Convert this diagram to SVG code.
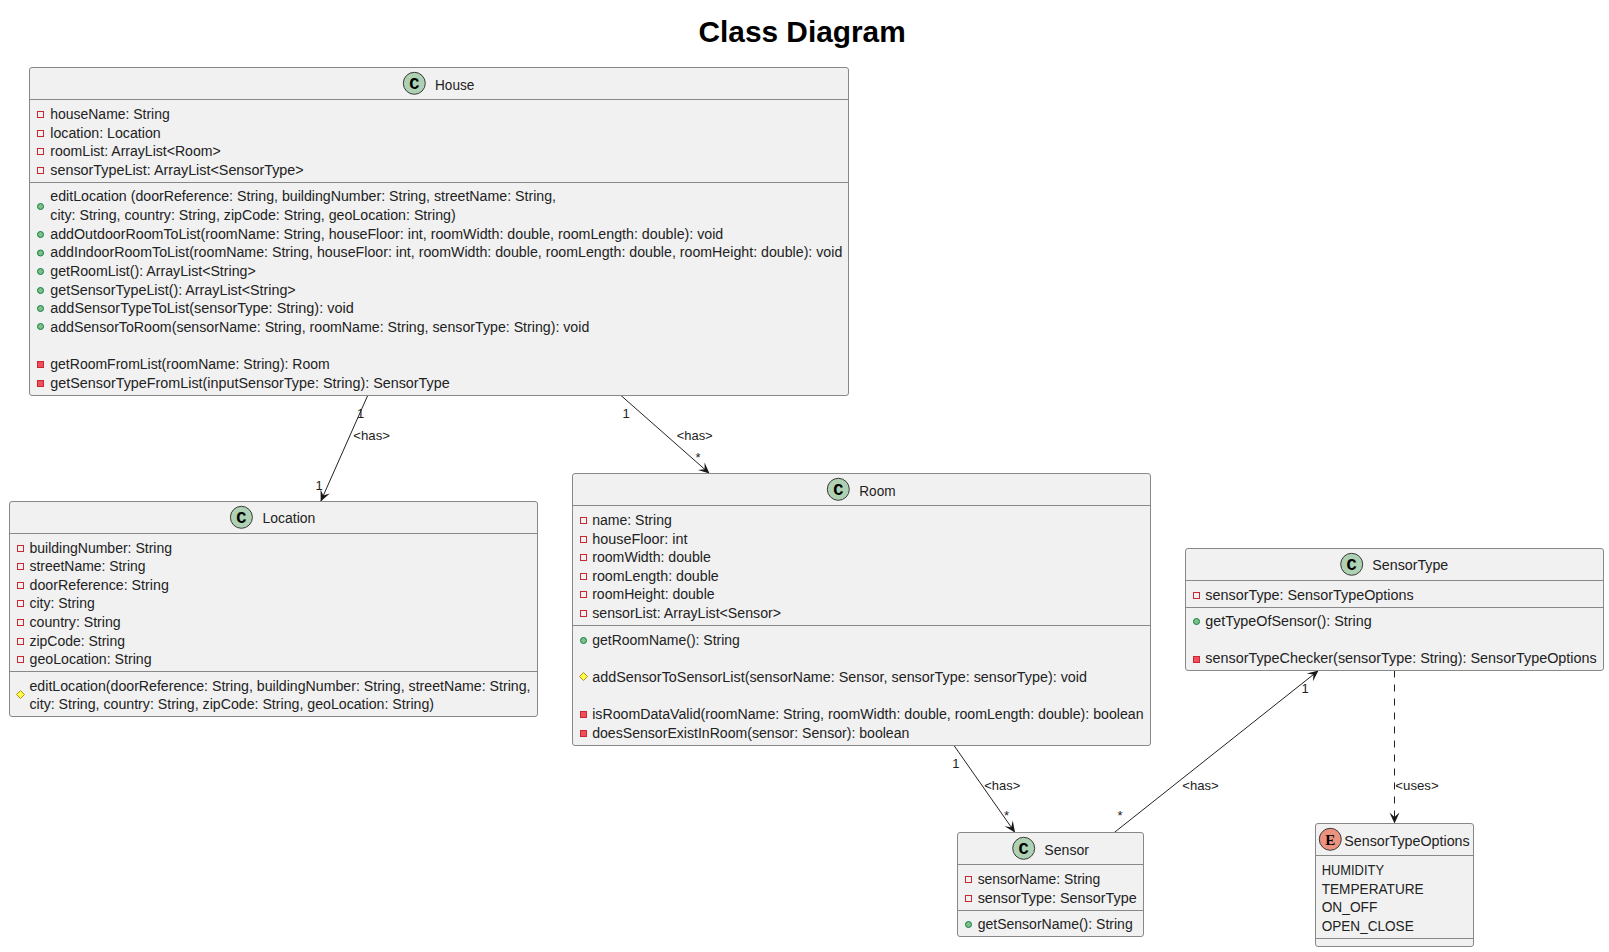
<svg xmlns="http://www.w3.org/2000/svg" width="1609" height="952" viewBox="0 0 1609 952">
<style>
text{font-family:"Liberation Sans",Arial,sans-serif;font-size:14px;fill:#222;}
.t{font-size:30px;font-weight:bold;fill:#000}
.l{font-size:13px}
.box{fill:#F1F1F1;stroke:#888;stroke-width:1}
.sep{stroke:#888;stroke-width:1;fill:none}
.cc{fill:#ADD1B2;stroke:#3a3a3a;stroke-width:1}
.ce{fill:#EB937F;stroke:#3a3a3a;stroke-width:1}
.g{font-family:"Liberation Mono",monospace;font-weight:bold;font-size:17px;fill:#000;text-anchor:middle}
.e{font-family:"Liberation Serif",serif;font-weight:bold;font-size:15px;fill:#000;text-anchor:middle}
.c{stroke:#222;stroke-width:1;fill:none}
.d{stroke-dasharray:7 7}
</style>
<defs>
<marker id="arr" markerUnits="userSpaceOnUse" markerWidth="14" markerHeight="12" refX="12" refY="6" orient="auto"><path d="M12,6 L1,1 L5.5,6 L1,11 Z" fill="#181818"/></marker>
<rect id="pf" x="-3" y="-3" width="6" height="6" fill="none" stroke="#C82930"/>
<rect id="pm" x="-3" y="-3" width="6" height="6" fill="#F24D5C" stroke="#C82930"/>
<circle id="pu" r="3" fill="#84BE84" stroke="#038048"/>
<path id="pt" d="M0,-4 L4,0 L0,4 L-4,0 Z" fill="#FFFF44" stroke="#B38D22"/>
</defs>

<text class="t" x="698.5" y="41.5" textLength="207.2" lengthAdjust="spacingAndGlyphs">Class Diagram</text>

<g id="connectors">
<line class="c" x1="367.7" y1="395.5" x2="320.7" y2="501.5" marker-end="url(#arr)"/>
<line class="c" x1="621" y1="395.5" x2="709.5" y2="473.5" marker-end="url(#arr)"/>
<line class="c" x1="954" y1="745.5" x2="1015" y2="832.5" marker-end="url(#arr)"/>
<line class="c" x1="1114.3" y1="832.5" x2="1318.5" y2="670.5" marker-end="url(#arr)"/>
<line class="c d" x1="1394.5" y1="670.5" x2="1394.5" y2="823.5" marker-end="url(#arr)"/>
<text class="l" x="357" y="418">1</text>
<text class="l" x="353.3" y="440" textLength="36.7" lengthAdjust="spacingAndGlyphs">&lt;has&gt;</text>
<text class="l" x="315.5" y="490">1</text>
<text class="l" x="622.5" y="418">1</text>
<text class="l" x="676.7" y="440" textLength="36" lengthAdjust="spacingAndGlyphs">&lt;has&gt;</text>
<text class="l" x="695.5" y="462">*</text>
<text class="l" x="952.3" y="768">1</text>
<text class="l" x="984.3" y="790" textLength="36" lengthAdjust="spacingAndGlyphs">&lt;has&gt;</text>
<text class="l" x="1004" y="820">*</text>
<text class="l" x="1301.5" y="693">1</text>
<text class="l" x="1182.3" y="790" textLength="36.4" lengthAdjust="spacingAndGlyphs">&lt;has&gt;</text>
<text class="l" x="1117.5" y="820">*</text>
<text class="l" x="1395.3" y="790" textLength="43.4" lengthAdjust="spacingAndGlyphs">&lt;uses&gt;</text>
</g>

<g id="House">
<rect class="box" x="29.5" y="67.5" width="819" height="328" rx="2.5"/>
<path class="sep" d="M29.5,99.5H848.5M29.5,182.5H848.5"/>
<circle class="cc" cx="414.3" cy="83.3" r="11"/><text class="g" x="414.3" y="88.5">C</text>
<text x="435" y="90" textLength="39.3" lengthAdjust="spacingAndGlyphs">House</text>
<use href="#pf" x="40.5" y="114.5"/><text x="50.3" y="119" textLength="119.4" lengthAdjust="spacingAndGlyphs">houseName: String</text>
<use href="#pf" x="40.5" y="133.5"/><text x="50.3" y="138" textLength="110.4" lengthAdjust="spacingAndGlyphs">location: Location</text>
<use href="#pf" x="40.5" y="151.5"/><text x="50.3" y="156" textLength="170.4" lengthAdjust="spacingAndGlyphs">roomList: ArrayList&lt;Room&gt;</text>
<use href="#pf" x="40.5" y="170.5"/><text x="50.3" y="175" textLength="253.4" lengthAdjust="spacingAndGlyphs">sensorTypeList: ArrayList&lt;SensorType&gt;</text>
<use href="#pu" x="40.5" y="206.5"/>
<text x="50.3" y="201" textLength="505.7" lengthAdjust="spacingAndGlyphs">editLocation (doorReference: String, buildingNumber: String, streetName: String,</text>
<text x="50.3" y="220" textLength="405.4" lengthAdjust="spacingAndGlyphs">city: String, country: String, zipCode: String, geoLocation: String)</text>
<use href="#pu" x="40.5" y="234.5"/><text x="50.3" y="239" textLength="673" lengthAdjust="spacingAndGlyphs">addOutdoorRoomToList(roomName: String, houseFloor: int, roomWidth: double, roomLength: double): void</text>
<use href="#pu" x="40.5" y="253"/><text x="50.3" y="257" textLength="792" lengthAdjust="spacingAndGlyphs">addIndoorRoomToList(roomName: String, houseFloor: int, roomWidth: double, roomLength: double, roomHeight: double): void</text>
<use href="#pu" x="40.5" y="271.5"/><text x="50.3" y="276" textLength="205.4" lengthAdjust="spacingAndGlyphs">getRoomList(): ArrayList&lt;String&gt;</text>
<use href="#pu" x="40.5" y="290.5"/><text x="50.3" y="295" textLength="245.4" lengthAdjust="spacingAndGlyphs">getSensorTypeList(): ArrayList&lt;String&gt;</text>
<use href="#pu" x="40.5" y="308.5"/><text x="50.3" y="313" textLength="303.4" lengthAdjust="spacingAndGlyphs">addSensorTypeToList(sensorType: String): void</text>
<use href="#pu" x="40.5" y="326.5"/><text x="50.3" y="332" textLength="539" lengthAdjust="spacingAndGlyphs">addSensorToRoom(sensorName: String, roomName: String, sensorType: String): void</text>
<use href="#pm" x="40.5" y="364.5"/><text x="50.3" y="369" textLength="279.4" lengthAdjust="spacingAndGlyphs">getRoomFromList(roomName: String): Room</text>
<use href="#pm" x="40.5" y="383.5"/><text x="50.3" y="388" textLength="399.4" lengthAdjust="spacingAndGlyphs">getSensorTypeFromList(inputSensorType: String): SensorType</text>
</g>

<g id="Location">
<rect class="box" x="9.5" y="501.5" width="528" height="215" rx="2.5"/>
<path class="sep" d="M9.5,533.5H537.5M9.5,671.5H537.5"/>
<circle class="cc" cx="241.4" cy="517.3" r="11"/><text class="g" x="241.4" y="522.5">C</text>
<text x="262.5" y="523" textLength="52.9" lengthAdjust="spacingAndGlyphs">Location</text>
<use href="#pf" x="20.5" y="548.5"/><text x="29.5" y="553" textLength="142.5" lengthAdjust="spacingAndGlyphs">buildingNumber: String</text>
<use href="#pf" x="20.5" y="566.5"/><text x="29.5" y="571" textLength="116.1" lengthAdjust="spacingAndGlyphs">streetName: String</text>
<use href="#pf" x="20.5" y="585.5"/><text x="29.5" y="590" textLength="139.3" lengthAdjust="spacingAndGlyphs">doorReference: String</text>
<use href="#pf" x="20.5" y="603.5"/><text x="29.5" y="608" textLength="65.2" lengthAdjust="spacingAndGlyphs">city: String</text>
<use href="#pf" x="20.5" y="622.5"/><text x="29.5" y="627" textLength="91.2" lengthAdjust="spacingAndGlyphs">country: String</text>
<use href="#pf" x="20.5" y="641.5"/><text x="29.5" y="646" textLength="95.4" lengthAdjust="spacingAndGlyphs">zipCode: String</text>
<use href="#pf" x="20.5" y="659.5"/><text x="29.5" y="664" textLength="122.1" lengthAdjust="spacingAndGlyphs">geoLocation: String</text>
<use href="#pt" x="20.5" y="694.5"/>
<text x="29.5" y="691" textLength="501" lengthAdjust="spacingAndGlyphs">editLocation(doorReference: String, buildingNumber: String, streetName: String,</text>
<text x="29.5" y="709" textLength="404.5" lengthAdjust="spacingAndGlyphs">city: String, country: String, zipCode: String, geoLocation: String)</text>
</g>

<g id="Room">
<rect class="box" x="572.5" y="473.5" width="578" height="272" rx="2.5"/>
<path class="sep" d="M572.5,505.5H1150.5M572.5,625.5H1150.5"/>
<circle class="cc" cx="838.3" cy="489.3" r="11"/><text class="g" x="838.3" y="494.5">C</text>
<text x="859.3" y="496" textLength="36.3" lengthAdjust="spacingAndGlyphs">Room</text>
<use href="#pf" x="583.5" y="520.5"/><text x="592.2" y="525" textLength="79.6" lengthAdjust="spacingAndGlyphs">name: String</text>
<use href="#pf" x="583.5" y="539.5"/><text x="592.2" y="544" textLength="95.3" lengthAdjust="spacingAndGlyphs">houseFloor: int</text>
<use href="#pf" x="583.5" y="557.5"/><text x="592.2" y="562" textLength="118.6" lengthAdjust="spacingAndGlyphs">roomWidth: double</text>
<use href="#pf" x="583.5" y="576.5"/><text x="592.2" y="581" textLength="126.6" lengthAdjust="spacingAndGlyphs">roomLength: double</text>
<use href="#pf" x="583.5" y="594.5"/><text x="592.2" y="599" textLength="122.4" lengthAdjust="spacingAndGlyphs">roomHeight: double</text>
<use href="#pf" x="583.5" y="613.5"/><text x="592.2" y="618" textLength="188.8" lengthAdjust="spacingAndGlyphs">sensorList: ArrayList&lt;Sensor&gt;</text>
<use href="#pu" x="583.5" y="640.5"/><text x="592.2" y="645" textLength="147.7" lengthAdjust="spacingAndGlyphs">getRoomName(): String</text>
<use href="#pt" x="583.5" y="676.5"/><text x="592.2" y="682" textLength="494.8" lengthAdjust="spacingAndGlyphs">addSensorToSensorList(sensorName: Sensor, sensorType: sensorType): void</text>
<use href="#pm" x="583.5" y="714.5"/><text x="592.2" y="719" textLength="551.4" lengthAdjust="spacingAndGlyphs">isRoomDataValid(roomName: String, roomWidth: double, roomLength: double): boolean</text>
<use href="#pm" x="583.5" y="733.5"/><text x="592.2" y="738" textLength="317.2" lengthAdjust="spacingAndGlyphs">doesSensorExistInRoom(sensor: Sensor): boolean</text>
</g>

<g id="SensorType">
<rect class="box" x="1185.5" y="548.5" width="418" height="122" rx="2.5"/>
<path class="sep" d="M1185.5,580.5H1603.5M1185.5,607.5H1603.5"/>
<circle class="cc" cx="1351.7" cy="564.3" r="11"/><text class="g" x="1351.7" y="569.5">C</text>
<text x="1372.3" y="570" textLength="76" lengthAdjust="spacingAndGlyphs">SensorType</text>
<use href="#pf" x="1196.5" y="595.5"/><text x="1205.3" y="600" textLength="208.4" lengthAdjust="spacingAndGlyphs">sensorType: SensorTypeOptions</text>
<use href="#pu" x="1196.5" y="621.5"/><text x="1205.3" y="626" textLength="166.4" lengthAdjust="spacingAndGlyphs">getTypeOfSensor(): String</text>
<use href="#pm" x="1196.5" y="659.5"/><text x="1205.3" y="663" textLength="391.4" lengthAdjust="spacingAndGlyphs">sensorTypeChecker(sensorType: String): SensorTypeOptions</text>
</g>

<g id="Sensor">
<rect class="box" x="957.5" y="832.5" width="186" height="104" rx="2.5"/>
<path class="sep" d="M957.5,864.5H1143.5M957.5,910.5H1143.5"/>
<circle class="cc" cx="1023.7" cy="848.3" r="11"/><text class="g" x="1023.7" y="853.5">C</text>
<text x="1044.3" y="855" textLength="44.7" lengthAdjust="spacingAndGlyphs">Sensor</text>
<use href="#pf" x="968.5" y="879.5"/><text x="977.7" y="884" textLength="122.6" lengthAdjust="spacingAndGlyphs">sensorName: String</text>
<use href="#pf" x="968.5" y="898.5"/><text x="977.7" y="903" textLength="159" lengthAdjust="spacingAndGlyphs">sensorType: SensorType</text>
<use href="#pu" x="968.5" y="924.5"/><text x="977.7" y="929" textLength="155" lengthAdjust="spacingAndGlyphs">getSensorName(): String</text>
</g>

<g id="SensorTypeOptions">
<rect class="box" x="1315.5" y="823.5" width="158" height="123" rx="2.5"/>
<path class="sep" d="M1315.5,855.5H1473.5M1315.5,938.5H1473.5"/>
<circle class="ce" cx="1330.3" cy="839.3" r="11"/><text class="e" x="1330.3" y="844.5">E</text>
<text x="1344.3" y="846" textLength="125.4" lengthAdjust="spacingAndGlyphs">SensorTypeOptions</text>
<text x="1321.7" y="875" textLength="62.3" lengthAdjust="spacingAndGlyphs">HUMIDITY</text>
<text x="1321.7" y="894" textLength="102" lengthAdjust="spacingAndGlyphs">TEMPERATURE</text>
<text x="1321.7" y="912" textLength="55.6" lengthAdjust="spacingAndGlyphs">ON_OFF</text>
<text x="1321.7" y="931" textLength="92" lengthAdjust="spacingAndGlyphs">OPEN_CLOSE</text>
</g>
</svg>
